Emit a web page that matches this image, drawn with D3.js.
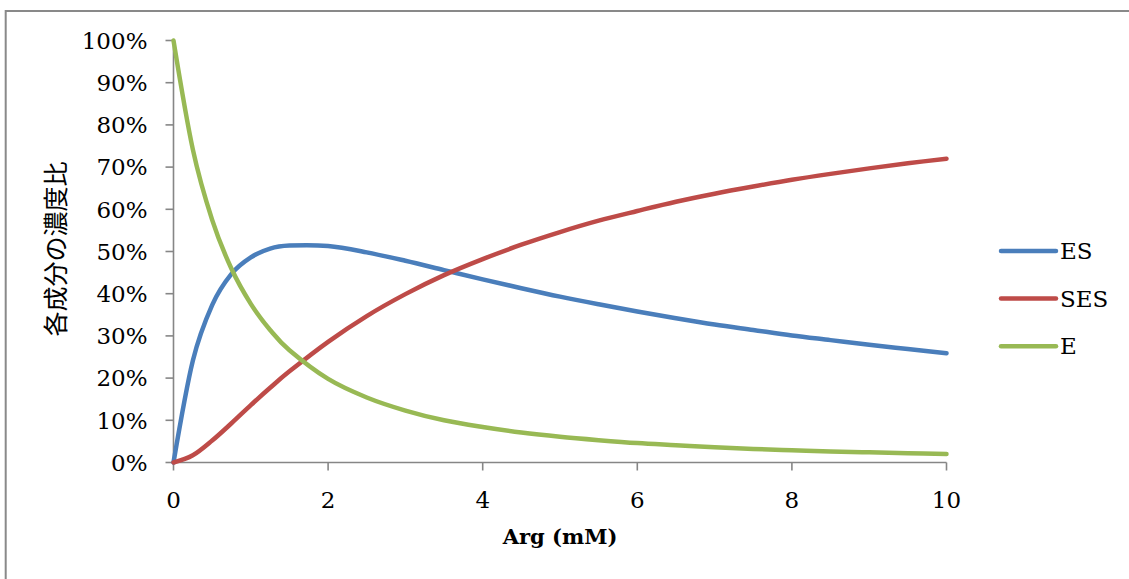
<!DOCTYPE html>
<html>
<head>
<meta charset="utf-8">
<script src="https://cdn.jsdelivr.net/npm/d3@7"></script>
<style>
  body { margin: 0; background: #fff; }
  svg { display: block; }
</style>
</head>
<body>
<script>
// substrate concentration (mM)
var argValues = [0, 0.25, 0.5, 0.75, 1, 1.25, 1.5, 2, 2.5, 3, 3.5, 4, 4.5, 5, 5.5, 6, 6.5, 7, 7.5, 8, 8.5, 9, 9.5, 10];
// fractions
var esValues  = [0, 0.241, 0.373, 0.447, 0.486, 0.507, 0.514, 0.513, 0.498, 0.478, 0.456, 0.434, 0.413, 0.393, 0.375, 0.358, 0.342, 0.327, 0.314, 0.301, 0.290, 0.279, 0.269, 0.259];
var sesValues = [0, 0.017, 0.052, 0.093, 0.136, 0.177, 0.216, 0.286, 0.347, 0.399, 0.444, 0.482, 0.516, 0.546, 0.573, 0.596, 0.618, 0.637, 0.654, 0.670, 0.684, 0.697, 0.709, 0.720];
var eValues   = [1, 0.742, 0.575, 0.459, 0.376, 0.314, 0.266, 0.198, 0.154, 0.123, 0.100, 0.084, 0.071, 0.061, 0.053, 0.046, 0.041, 0.036, 0.032, 0.029, 0.026, 0.024, 0.022, 0.020];

var seriesNames = ["ES", "SES", "E"];
var seriesColors = ["#4a7ebb", "#be4b48", "#98b954"];
var xTicks = [0, 2, 4, 6, 8, 10];
var yTicks = [0, 0.1, 0.2, 0.3, 0.4, 0.5, 0.6, 0.7, 0.8, 0.9, 1];

var width = 1129, height = 579;
var axisColor = "#868686";
var serif = "'DejaVu Serif', serif";

var svg = d3.select("body").append("svg")
    .attr("width", width)
    .attr("height", height);

// outer frame (runs off the right and bottom edge)
svg.append("rect")
    .attr("x", 5.7).attr("y", 11)
    .attr("width", 1200).attr("height", 700)
    .attr("fill", "none")
    .attr("stroke", "#898989")
    .attr("stroke-width", 2);

var x = d3.scaleLinear().domain([0, 10]).range([173.5, 946.5]);
var y = d3.scaleLinear().domain([0, 1]).range([462.5, 40.5]);

// y axis
var gy = svg.append("g").attr("transform", "translate(" + x(0) + ",0)");
gy.append("line")
    .attr("y1", y(1)).attr("y2", y(0))
    .attr("stroke", axisColor).attr("stroke-width", 1.6);
gy.selectAll(".ytick").data(yTicks).enter().append("line")
    .attr("x1", -8).attr("x2", 0)
    .attr("y1", function(d) { return y(d); })
    .attr("y2", function(d) { return y(d); })
    .attr("stroke", axisColor).attr("stroke-width", 1.6);
gy.selectAll(".ylab").data(yTicks).enter().append("text")
    .attr("x", -26)
    .attr("y", function(d) { return y(d); })
    .attr("dy", "0.36em")
    .attr("text-anchor", "end")
    .attr("font-family", serif)
    .attr("font-size", 23)
    .attr("fill", "#000")
    .text(function(d) { return d3.format(".0%")(d); });

// x axis
var gx = svg.append("g").attr("transform", "translate(0," + y(0) + ")");
gx.append("line")
    .attr("x1", x(0)).attr("x2", x(10))
    .attr("stroke", axisColor).attr("stroke-width", 1.6);
gx.selectAll(".xtick").data(xTicks).enter().append("line")
    .attr("x1", function(d) { return x(d); })
    .attr("x2", function(d) { return x(d); })
    .attr("y1", 0).attr("y2", 8)
    .attr("stroke", axisColor).attr("stroke-width", 1.6);
gx.selectAll(".xlab").data(xTicks).enter().append("text")
    .attr("x", function(d) { return x(d); })
    .attr("y", 45.5)
    .attr("text-anchor", "middle")
    .attr("font-family", serif)
    .attr("font-size", 23)
    .attr("fill", "#000")
    .text(function(d) { return d; });

// axis titles
svg.append("text")
    .attr("x", 560).attr("y", 544)
    .attr("text-anchor", "middle")
    .attr("font-family", serif)
    .attr("font-weight", "bold")
    .attr("font-size", 21)
    .attr("fill", "#000")
    .text("Arg (mM)");

svg.append("text")
    .attr("transform", "translate(56,249) rotate(-90)")
    .attr("text-anchor", "middle")
    .attr("dy", "0.35em")
    .attr("font-family", "'Noto Sans CJK JP', sans-serif")
    .attr("font-size", 25)
    .attr("fill", "#000")
    .text("各成分の濃度比");

// series
var seriesData = [esValues, sesValues, eValues];
var line = d3.line()
    .x(function(d, i) { return x(argValues[i]); })
    .y(function(d) { return y(d); })
    .curve(d3.curveCardinal.tension(0));

svg.selectAll(".series").data(seriesData).enter().append("path")
    .attr("d", line)
    .attr("fill", "none")
    .attr("stroke", function(d, i) { return seriesColors[i]; })
    .attr("stroke-width", 4.5)
    .attr("stroke-linejoin", "round")
    .attr("stroke-linecap", "round");

// legend
var legend = svg.selectAll(".legend").data(seriesNames).enter().append("g")
    .attr("transform", function(d, i) { return "translate(1001," + (251 + i * 47.6) + ")"; });
legend.append("line")
    .attr("x1", 0).attr("x2", 55)
    .attr("stroke", function(d, i) { return seriesColors[i]; })
    .attr("stroke-width", 4.5)
    .attr("stroke-linecap", "round");
legend.append("text")
    .attr("x", 59)
    .attr("dy", "0.36em")
    .attr("font-family", serif)
    .attr("font-size", 23)
    .attr("fill", "#000")
    .text(function(d) { return d; });
</script>
</body>
</html>
